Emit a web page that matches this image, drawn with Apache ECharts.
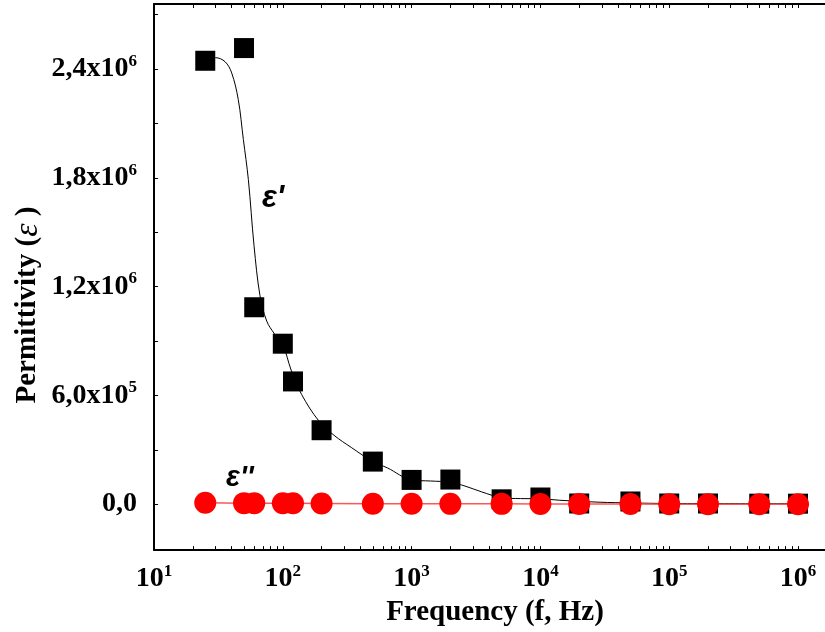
<!DOCTYPE html>
<html>
<head>
<meta charset="utf-8">
<script src="https://cdn.jsdelivr.net/npm/echarts@6/dist/echarts.min.js"></script>
<style>
  html, body { margin: 0; padding: 0; background: #fff; }
  #chart { width: 825px; height: 632px; }
</style>
</head>
<body>
<div id="chart"></div>
<script>
// measured frequencies (Hz)
var freq = [25, 50, 60, 100, 120, 200, 500, 1000, 2000, 5000, 1e4, 2e4, 5e4, 1e5, 2e5, 5e5, 1e6];
// real part eps'
var epsReal = [2445000, 2515000, 1086000, 885000, 677000, 408000, 235000, 134000, 136000,
  27000, 37000, 4000, 15000, 4000, 4000, 3000, 3000];
// imaginary part eps''
var epsImag = [8000, 6000, 6000, 5000, 5000, 4000, 3000, 3000, 2000,
  2000, 1000, 1000, 1000, 0, 0, 0, 0];

// fitted curve through eps'
var fitFreq = [25, 30, 35.6, 40.1, 45.1, 49.4, 54, 59.8, 66.5, 75, 86, 100,
  116, 140, 190, 250, 340, 500, 650, 1000, 1400, 2000, 2600, 3500, 5000, 7000, 1e4,
  14000, 29000, 5e4, 1e5, 1e6];
var fitVal = [2462000, 2462000, 2440000, 2378000, 2231000, 2011000, 1791000, 1425000, 1150000,
  1010000, 940000, 880000, 740000, 605000, 460000, 380000, 313000, 235000, 200000, 134000,
  128000, 121000, 100000, 68000, 36000, 31000, 30000, 22000, 11000, 7000, 4000, 3000];

// tick labels
var xTickExp = [1, 2, 3, 4, 5, 6];
var yTickValues = [0, 600000, 1200000, 1800000, 2400000];
var yTickMant = ['0,0', '6,0', '1,2', '1,8', '2,4'];
var yTickExp = ['', '5', '6', '6', '6'];

var xMin = 10, xMax = 1.62e6;
var yMin = -253000, yMax = 2758000;

var xLabelVals = xTickExp.map(function (e) { return Math.pow(10, e); });
// minor ticks at 2..9 x 10^n
var xTickVals = [];
for (var d = 1; d <= 6; d++) {
  for (var m = 1; m <= 9; m++) {
    var v = m * Math.pow(10, d);
    if (v <= xMax) xTickVals.push(v);
  }
}
var yTickAll = [];
for (var t = 0; t <= 2700000; t += 300000) yTickAll.push(t);

var serif = '"Liberation Serif", "Times New Roman", serif';
var rich = {
  b: { fontFamily: serif, fontWeight: 'bold', fontSize: 28, lineHeight: 32, color: '#000' },
  s: { fontFamily: serif, fontWeight: 'bold', fontSize: 17, lineHeight: 17, color: '#000', verticalAlign: 'top' }
};

function zip(xs, ys) {
  return xs.map(function (x, i) { return [x, ys[i]]; });
}

var myChart = echarts.init(document.getElementById('chart'));

var axisX = {
  type: 'log',
  logBase: 10,
  min: xMin,
  max: xMax,
  axisLine: { show: true, onZero: false, lineStyle: { color: '#000', width: 2 } },
  axisTick: { show: true, inside: true, length: 4, customValues: xTickVals, lineStyle: { color: '#000', width: 1 } },
  minorTick: { show: false },
  splitLine: { show: false }
};

var option = {
  animation: false,
  backgroundColor: '#fff',
  grid: { left: 154, right: 0, top: 4, bottom: 80, containLabel: false },
  xAxis: [
    Object.assign({}, axisX, {
      position: 'bottom',
      name: 'Frequency (f, Hz)',
      nameLocation: 'middle',
      nameGap: 42,
      nameTextStyle: { fontFamily: serif, fontWeight: 'bold', fontSize: 29, color: '#000', padding: [0, 0, 0, 11] },
      axisLabel: {
        show: true,
        margin: 13,
        customValues: xLabelVals,
        formatter: function (val) {
          var e = Math.round(Math.log(val) / Math.LN10);
          return '{b|10}{s|' + e + '}';
        },
        rich: rich
      }
    }),
    Object.assign({}, axisX, {
      position: 'top',
      axisLabel: { show: false }
    })
  ],
  yAxis: {
    type: 'value',
    min: yMin,
    max: yMax,
    axisLine: { show: true, onZero: false, lineStyle: { color: '#000', width: 2 } },
    axisTick: { show: true, inside: true, length: 4, customValues: yTickAll, lineStyle: { color: '#000', width: 1 } },
    splitLine: { show: false },
    axisLabel: {
      show: true,
      margin: 17,
      customValues: yTickValues,
      formatter: function (val) {
        var i = yTickValues.indexOf(val);
        if (i < 0) return '';
        return yTickExp[i] ? '{b|' + yTickMant[i] + 'x10}{s|' + yTickExp[i] + '}' : '{b|' + yTickMant[i] + '}';
      },
      rich: rich
    }
  },
  graphic: [
    {
      type: 'text',
      x: 28, y: 305,
      rotation: Math.PI / 2,
      style: {
        text: '{a|Permittivity (}{e|ε}{a| )}',
        align: 'center',
        verticalAlign: 'middle',
        rich: {
          a: { fontFamily: serif, fontWeight: 'bold', fontSize: 29, fill: '#000' },
          e: { fontFamily: serif, fontStyle: 'italic', fontSize: 34, fill: '#000' }
        }
      }
    },
    {
      type: 'text',
      x: 262, y: 198,
      style: {
        text: "ε'",
        font: 'italic bold 31px "Liberation Sans", Arial, sans-serif',
        fill: '#000',
        verticalAlign: 'middle'
      }
    },
    {
      type: 'text',
      x: 226, y: 478,
      style: {
        text: "ε''",
        font: 'italic bold 29px "Liberation Sans", Arial, sans-serif',
        fill: '#000',
        verticalAlign: 'middle'
      }
    }
  ],
  series: [
    {
      name: 'fit',
      type: 'line',
      data: zip(fitFreq, fitVal),
      smooth: 0.35,
      symbol: 'none',
      lineStyle: { color: '#000', width: 1 },
      z: 2
    },
    {
      name: "ε'",
      type: 'scatter',
      data: zip(freq, epsReal),
      symbol: 'rect',
      symbolSize: 20,
      itemStyle: { color: '#000', opacity: 1 },
      z: 3
    },
    {
      name: "ε''",
      type: 'line',
      data: zip(freq, epsImag),
      symbol: 'circle',
      symbolSize: 22,
      showAllSymbol: true,
      lineStyle: { color: '#ff5555', width: 1.5 },
      itemStyle: { color: '#ff0000', opacity: 1 },
      z: 4
    }
  ]
};

option && myChart.setOption(option);
</script>
</body>
</html>
